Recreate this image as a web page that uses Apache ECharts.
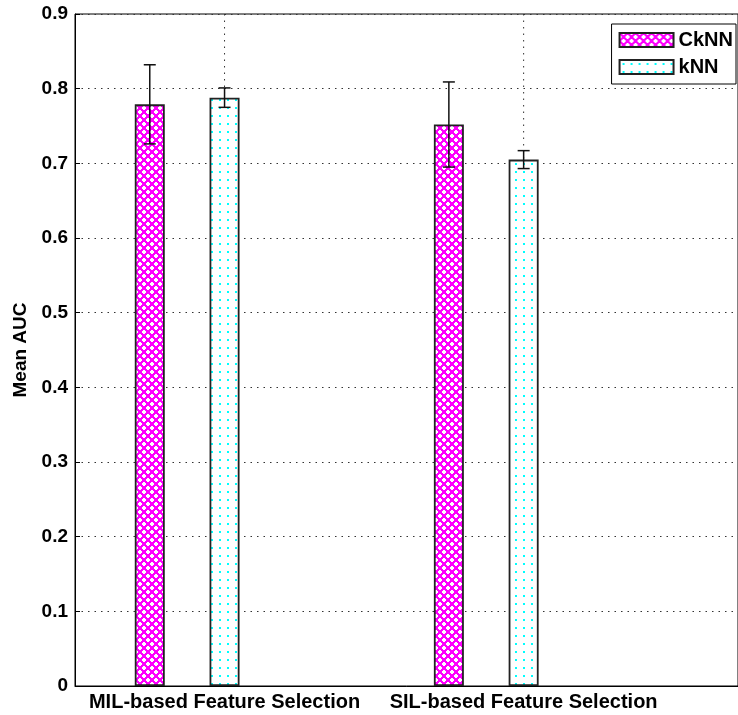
<!DOCTYPE html>
<html>
<head>
<meta charset="utf-8">
<script src="https://cdn.jsdelivr.net/npm/echarts@6/dist/echarts.min.js"></script>
<style>
html,body{margin:0;padding:0;background:#fff;}
#chart{width:738px;height:715px;}
</style>
</head>
<body>
<div id="chart"></div>
<script>
// ---- data ----
const categories = ['MIL-based Feature Selection', 'SIL-based Feature Selection'];
const groupX = [1, 2];
const seriesNames = ['CkNN', 'kNN'];
const ckNNMean = [0.779, 0.752];
const ckNNErr = [0.053, 0.057];
const kNNMean = [0.788, 0.705];
const kNNErr = [0.013, 0.012];
const yTickLabels = ['0', '0.1', '0.2', '0.3', '0.4', '0.5', '0.6', '0.7', '0.8', '0.9'];

// layout constants
const ckOffset = 0.25; // CkNN bar sits left of group centre (x units)
const FONT = 'Liberation Sans, Arial, sans-serif';

function makeCross() {
  const N = 8, c = document.createElement('canvas');
  c.width = N; c.height = N;
  const ctx = c.getContext('2d');
  const img = ctx.createImageData(N, N);
  for (let y = 0; y < N; y++) {
    for (let x = 0; x < N; x++) {
      const px = x + 0.5, py = y + 0.5;
      const a = ((px + py) % N + N) % N; const d1 = Math.min(a, N - a) / Math.SQRT2;
      const b = ((px - py) % N + N) % N; const d2 = Math.min(b, N - b) / Math.SQRT2;
      const d = Math.min(d1, d2);
      const k = (y * N + x) * 4;
      if (d < 1.3) { img.data[k] = 255; img.data[k+1] = 0; img.data[k+2] = 255; }
      else { img.data[k] = 255; img.data[k+1] = 255; img.data[k+2] = 255; }
      img.data[k+3] = 255;
    }
  }
  ctx.putImageData(img, 0, 0);
  return c;
}
function makeDots() {
  const N = 8, c = document.createElement('canvas');
  c.width = N; c.height = N;
  const ctx = c.getContext('2d');
  ctx.fillStyle = '#fff'; ctx.fillRect(0, 0, N, N);
  ctx.fillStyle = '#00ffff'; ctx.fillRect(3, 3, 2, 2);
  return c;
}
const crossPattern = { image: makeCross(), repeat: 'repeat' };
const dotPattern = { image: makeDots(), repeat: 'repeat' };

const chart = echarts.init(document.getElementById('chart'), null, { renderer: 'canvas' });

function errRender(params, api) {
  const x = api.value(0), m = api.value(1), e = api.value(2);
  const top = api.coord([x, m + e]);
  const bot = api.coord([x, m - e]);
  const h = 6;
  const st = { stroke: '#111', lineWidth: 1.5 };
  return { type: 'group', children: [
    { type: 'line', shape: { x1: top[0], y1: top[1], x2: bot[0], y2: bot[1] }, style: st },
    { type: 'line', shape: { x1: top[0] - h, y1: top[1], x2: top[0] + h, y2: top[1] }, style: st },
    { type: 'line', shape: { x1: bot[0] - h, y1: bot[1], x2: bot[0] + h, y2: bot[1] }, style: st }
  ]};
}
function vGridRender(params, api) {
  const x = api.value(0);
  const p1 = api.coord([x, 0.9]);
  const p2 = api.coord([x, 0]);
  return { type: 'line', shape: { x1: p1[0], y1: p1[1], x2: p2[0], y2: p2[1] },
    style: { stroke: '#333', lineWidth: 1, lineDash: [1.5, 5] } };
}

const option = {
  animation: false,
  backgroundColor: '#fff',
  grid: { left: 75, right: -2, top: 14, bottom: 29, show: true, borderColor: '#000', borderWidth: 1, backgroundColor: 'transparent' },
  legend: {
    data: seriesNames,
    orient: 'vertical',
    right: 2, top: 24,
    itemWidth: 54, itemHeight: 14, itemGap: 7,
    padding: [6, 3, 7, 7],
    backgroundColor: '#fff',
    borderColor: '#000', borderWidth: 1,
    icon: 'rect',
    textStyle: { fontFamily: FONT, fontWeight: 'bold', fontSize: 20, color: '#000' }
  },
  xAxis: {
    type: 'value', min: 0.5, max: 2.7167,
    axisLine: { show: true, onZero: false, lineStyle: { color: '#000', width: 1 } },
    axisTick: { show: true, inside: true, length: 5, customValues: groupX, lineStyle: { color: '#000' } },
    axisLabel: { customValues: groupX, margin: 6, color: '#000', fontFamily: FONT, fontWeight: 'bold', fontSize: 20,
      formatter: function (v) { const i = groupX.indexOf(Math.round(v)); return i >= 0 ? categories[i] : ''; } },
    splitLine: { show: false }
  },
  yAxis: {
    type: 'value', min: 0, max: 0.9, interval: 0.1,
    name: 'Mean AUC', nameLocation: 'middle', nameGap: 44,
    nameTextStyle: { fontFamily: FONT, fontWeight: 'bold', fontSize: 19, color: '#000' },
    axisLine: { show: true, lineStyle: { color: '#000', width: 1 } },
    axisTick: { show: true, inside: true, length: 5, lineStyle: { color: '#000' } },
    axisLabel: { margin: 7, color: '#000', fontFamily: FONT, fontWeight: 'bold', fontSize: 19,
      formatter: function (v) { return yTickLabels[Math.round(v * 10)]; } },
    splitLine: { show: true, lineStyle: { color: '#333', width: 1, type: [1.5, 5] } }
  },
  series: [
    { type: 'custom', name: 'vgrid', silent: true, z: 1, renderItem: vGridRender,
      data: groupX.map(x => [x]), encode: { x: 0 } },
    { type: 'bar', name: 'CkNN', z: 2, barWidth: 30, barGap: '-100%',
      itemStyle: { color: crossPattern, borderColor: '#222', borderWidth: 1.8 },
      data: groupX.map((x, i) => [x - ckOffset, ckNNMean[i]]) },
    { type: 'bar', name: 'kNN', z: 2, barWidth: 30, barGap: '-100%',
      itemStyle: { color: dotPattern, borderColor: '#222', borderWidth: 1.8 },
      data: groupX.map((x, i) => [x, kNNMean[i]]) },
    { type: 'custom', name: 'errCk', silent: true, z: 3, renderItem: errRender,
      data: groupX.map((x, i) => [x - ckOffset, ckNNMean[i], ckNNErr[i]]), encode: { x: 0, y: 1 } },
    { type: 'custom', name: 'errK', silent: true, z: 3, renderItem: errRender,
      data: groupX.map((x, i) => [x, kNNMean[i], kNNErr[i]]), encode: { x: 0, y: 1 } }
  ]
};
chart.setOption(option);
</script>
</body>
</html>
